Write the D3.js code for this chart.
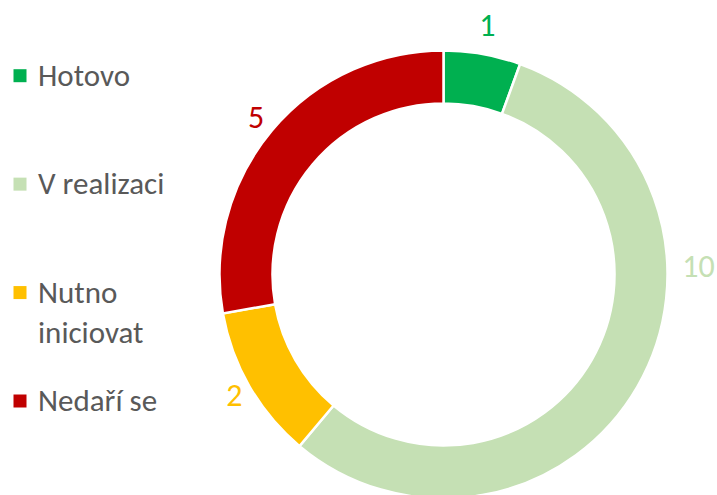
<!DOCTYPE html>
<html>
<head>
<meta charset="utf-8">
<script src="https://cdn.jsdelivr.net/npm/d3@7"></script>
<style>
  html, body { margin: 0; padding: 0; background: #fff; }
  svg { display: block; }
  text { font-family: Calibri, Carlito, Lato, "Open Sans", sans-serif; }
</style>
</head>
<body>
<svg id="chart" width="717" height="495"></svg>
<script>
const categories = ["Hotovo", "V realizaci", "Nutno iniciovat", "Nedaří se"];
const values = [1, 10, 2, 5];
const colors = ["#00B050", "#C5E0B4", "#FFC000", "#C00000"];

const W = 717, H = 495;
const cx = 443.5, cy = 274.5;
const outerR = 224, innerR = 171;

const svg = d3.select("#chart");

const data = categories.map((c, i) => ({ category: c, value: values[i], color: colors[i] }));

const pie = d3.pie().value(d => d.value).sort(null);
const arcs = pie(data);
const arc = d3.arc().innerRadius(innerR).outerRadius(outerR);

const g = svg.append("g").attr("transform", `translate(${cx},${cy})`);

g.selectAll("path.slice")
  .data(arcs)
  .join("path")
  .attr("class", "slice")
  .attr("d", arc)
  .attr("fill", d => d.data.color)
  .attr("stroke", "#ffffff")
  .attr("stroke-width", 2.5)
  .attr("stroke-linejoin", "miter");

// data labels (best fit: large slices spanning the horizontal get labelled at the side)
function isSide(d) {
  const side = Math.PI / 2;
  return d.endAngle - d.startAngle > Math.PI / 2 && d.startAngle < side && d.endAngle > side;
}
function labelAngle(d) {
  return isSide(d) ? Math.PI / 2 - 0.03 : (d.startAngle + d.endAngle) / 2;
}
function labelRadius(d) {
  const a = labelAngle(d);
  return isSide(d) ? outerR + 31 : outerR + 6 + 23 * Math.abs(Math.cos(a));
}
g.selectAll("text.lbl")
  .data(arcs)
  .join("text")
  .attr("class", "lbl")
  .attr("x", d => labelRadius(d) * Math.sin(labelAngle(d)))
  .attr("y", d => -labelRadius(d) * Math.cos(labelAngle(d)))
  .attr("text-anchor", "middle")
  .attr("dominant-baseline", "central")
  .attr("font-size", 32)
  .attr("fill", d => d.data.color)
  .text(d => d.data.value);

// legend
const legendY = d3.scaleLinear().domain([0, categories.length - 1]).range([75.7, 401]);
const legend = svg.append("g");
const items = legend.selectAll("g.item")
  .data(data)
  .join("g")
  .attr("class", "item")
  .attr("transform", (d, i) => `translate(0,${legendY(i)})`);

items.append("rect")
  .attr("x", 13.5)
  .attr("y", -6.5)
  .attr("width", 13)
  .attr("height", 13)
  .attr("fill", d => d.color);

items.each(function(d) {
  const t = d3.select(this).append("text")
    .attr("x", 38)
    .attr("y", 10)
    .attr("font-size", 31)
    .attr("fill", "#595959");
  const words = d.category.split(" ");
  let line = [];
  let tspan = t.append("tspan").attr("x", 38).attr("dy", 0);
  const maxW = 150;
  words.forEach(w => {
    line.push(w);
    tspan.text(line.join(" "));
    if (tspan.node().getComputedTextLength() > maxW && line.length > 1) {
      line.pop();
      tspan.text(line.join(" "));
      line = [w];
      tspan = t.append("tspan").attr("x", 38).attr("dy", 40).text(w);
    }
  });
});
</script>
</body>
</html>
